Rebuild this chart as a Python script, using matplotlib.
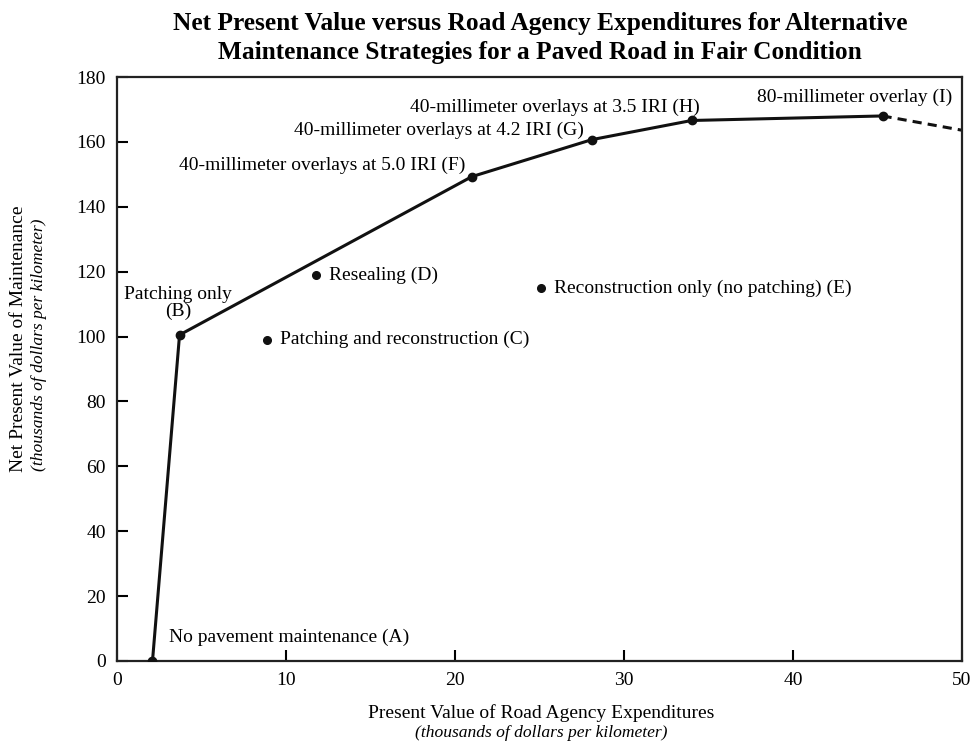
import matplotlib
matplotlib.use("Agg")
import matplotlib.pyplot as plt

# Data
frontier_x = [2.1, 3.7, 21.0, 28.1, 34.0, 45.3]
frontier_y = [0.0, 100.5, 149.3, 160.7, 166.6, 168.0]
frontier_labels = ["No pavement maintenance (A)", "Patching only\n(B)",
                   "40-millimeter overlays at 5.0 IRI (F)",
                   "40-millimeter overlays at 4.2 IRI (G)",
                   "40-millimeter overlays at 3.5 IRI (H)",
                   "80-millimeter overlay (I)"]
dashed_x = [45.3, 50.0]
dashed_y = [168.0, 163.6]
other_x = [8.9, 11.8, 25.1]
other_y = [99.0, 119.0, 115.0]
other_labels = ["Patching and reconstruction (C)", "Resealing (D)",
                "Reconstruction only (no patching) (E)"]

plt.rcParams['font.family'] = ['Liberation Serif', 'DejaVu Serif']

fig = plt.figure(figsize=(9.71, 7.42), dpi=100)
ax = fig.add_axes([0.1205, 0.1092, 0.8702, 0.787])

ax.plot(frontier_x, frontier_y, color='#111111', lw=2.2, marker='o', ms=6, zorder=3)
ax.plot(dashed_x, dashed_y, color='#111111', lw=2.2, ls=(0, (3, 2)), zorder=2)
ax.plot(other_x, other_y, ls='none', color='#111111', marker='o', ms=5.5, zorder=3)

fs = 14
# frontier labels
ax.text(3.1, 7.4, frontier_labels[0], fontsize=fs, ha='left', va='center')
ax.text(3.6, 110.3, frontier_labels[1], fontsize=fs, ha='center', va='center', linespacing=1.0)
ax.text(20.6, 152.9, frontier_labels[2], fontsize=fs, ha='right', va='center')
ax.text(27.6, 163.7, frontier_labels[3], fontsize=fs, ha='right', va='center')
ax.text(34.5, 170.8, frontier_labels[4], fontsize=fs, ha='right', va='center')
ax.text(49.4, 173.8, frontier_labels[5], fontsize=fs, ha='right', va='center')
# other labels
for x, y, lab in zip(other_x, other_y, other_labels):
    ax.text(x + 0.75, y, lab, fontsize=fs, ha='left', va='center')

ax.set_xlim(0, 50)
ax.set_ylim(0, 180)
ax.set_xticks(range(0, 51, 10))
ax.set_yticks(range(0, 181, 20))
ax.tick_params(direction='in', length=8, width=1.5, labelsize=14, pad=8)
for s in ax.spines.values():
    s.set_linewidth(1.6)
    s.set_color('#222222')

fig.text(0.556, 0.949, "Net Present Value versus Road Agency Expenditures for Alternative\n"
         "Maintenance Strategies for a Paved Road in Fair Condition",
         ha='center', va='center', fontsize=18.3, fontweight='bold', linespacing=1.3)

fig.text(0.557, 0.039, "Present Value of Road Agency Expenditures", ha='center', va='center', fontsize=14)
fig.text(0.557, 0.012, "(thousands of dollars per kilometer)", ha='center', va='center',
         fontsize=12.6, style='italic')
fig.text(0.019, 0.543, "Net Present Value of Maintenance", rotation=90, ha='center', va='center', fontsize=14)
fig.text(0.040, 0.535, "(thousands of dollars per kilometer)", rotation=90, ha='center', va='center',
         fontsize=12.6, style='italic')

fig.savefig("out.png", dpi=100)
